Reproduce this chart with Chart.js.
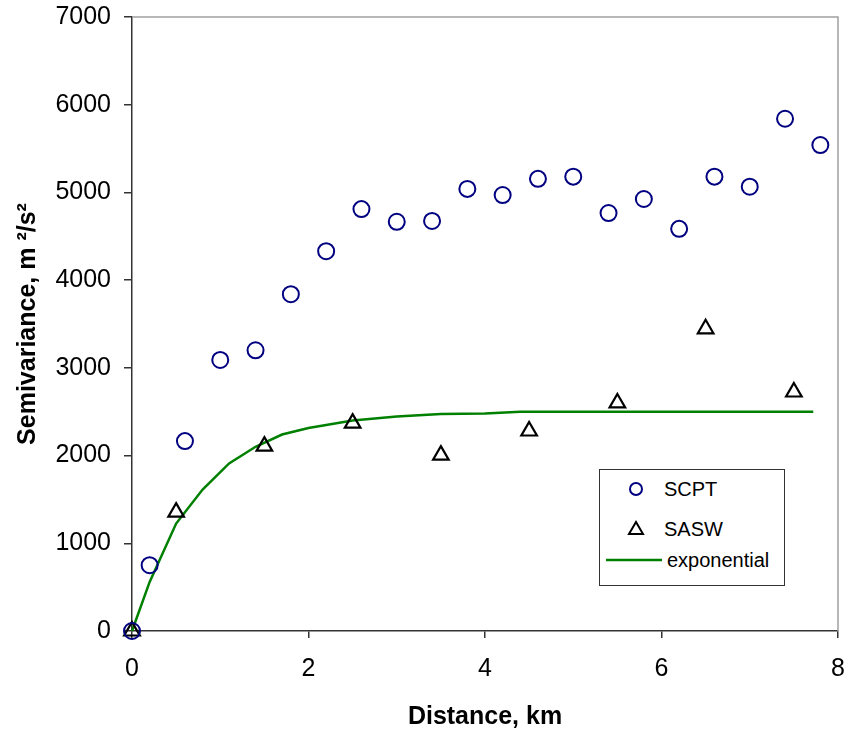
<!DOCTYPE html>
<html>
<head>
<meta charset="utf-8">
<script src="https://cdn.jsdelivr.net/npm/chart.js@4"></script>
<style>
  html, body { margin:0; padding:0; background:#fff; }
  #wrap { position:relative; width:846px; height:730px; }
  #c { position:absolute; left:0; top:0; }
  #legend { position:absolute; left:599px; top:469px; width:184px; height:115px; border:1px solid #333; background:#fff;
            font-family:"Liberation Sans", Arial, sans-serif; font-size:20px; color:#000; }
  .item { position:absolute; left:0; height:24px; line-height:24px; white-space:nowrap; }
  .item svg { position:absolute; top:0; }
  .item span { position:absolute; top:0; }
</style>
</head>
<body>
<div id="wrap">
  <canvas id="c" width="846" height="730"></canvas>
  <div id="legend">
    <div class="item" style="top:7px;"><svg width="60" height="24" style="left:20px"><circle cx="16" cy="12" r="6" fill="none" stroke="#000080" stroke-width="2"/></svg><span style="left:64px">SCPT</span></div>
    <div class="item" style="top:47px;"><svg width="60" height="24" style="left:20px"><polygon points="16,5 23,17 9,17" fill="none" stroke="#000" stroke-width="2"/></svg><span style="left:64px">SASW</span></div>
    <div class="item" style="top:78px;"><svg width="60" height="24" style="left:6px"><line x1="0" y1="12" x2="56" y2="12" stroke="#008000" stroke-width="2.5"/></svg><span style="left:67px">exponential</span></div>
  </div>
</div>
<script>
// ---- data ----
const scptDistance = [0, 0.2, 0.6, 1.0, 1.4, 1.8, 2.2, 2.6, 3.0, 3.4, 3.8, 4.2, 4.6, 5.0, 5.4, 5.8, 6.2, 6.6, 7.0, 7.4, 7.8];
const scptSemivar  = [0, 750, 2165, 3090, 3200, 3840, 4330, 4810, 4665, 4675, 5040, 4970, 5155, 5180, 4765, 4925, 4585, 5180, 5065, 5840, 5540];

const saswDistance = [0, 0.5, 1.5, 2.5, 3.5, 4.5, 5.5, 6.5, 7.5];
const saswSemivar  = [0, 1355, 2108, 2370, 2005, 2280, 2600, 3445, 2725];

const expDistance = [0, 0.2, 0.5, 0.8, 1.1, 1.4, 1.7, 2.0, 2.5, 3.0, 3.5, 4.0, 4.4, 5.0, 6.0, 7.0, 7.72];
const expSemivar  = [0, 560, 1225, 1613, 1910, 2100, 2240, 2315, 2400, 2445, 2475, 2480, 2500, 2500, 2500, 2500, 2500];

const xTickValues = [0, 2, 4, 6, 8];
const yTickValues = [0, 1000, 2000, 3000, 4000, 5000, 6000, 7000];

const seriesNames = ['SCPT', 'SASW', 'exponential'];
const xTitle = 'Distance, km';
const yTitle = 'Semivariance, m \u00B2/s\u00B2';

const toXY = (xs, ys) => xs.map((x, i) => ({x: x, y: ys[i]}));

const frame = {
  id: 'frame',
  beforeDatasetsDraw(chart) {
    const {ctx, chartArea: a} = chart;
    ctx.save();
    ctx.strokeStyle = '#a0a0a0';
    ctx.lineWidth = 1.5;
    ctx.beginPath();
    ctx.moveTo(a.left, a.top);
    ctx.lineTo(a.right, a.top);
    ctx.lineTo(a.right, a.bottom);
    ctx.stroke();
    ctx.restore();
  }
};

const font = {family: '"Liberation Sans", Arial, sans-serif', size: 25};
const titleFont = {family: '"Liberation Sans", Arial, sans-serif', size: 25, weight: 'bold', lineHeight: 1.0};

function zeroPad(s) { s.paddingTop = 0; s.paddingRight = 0; s.paddingBottom = 0; s.paddingLeft = 0; }

new Chart(document.getElementById('c'), {
  type: 'scatter',
  data: {
    datasets: [
      { label: seriesNames[0], data: toXY(scptDistance, scptSemivar), pointStyle: 'circle', pointRadius: 8, pointHoverRadius: 8,
        borderColor: '#000080', backgroundColor: 'rgba(0,0,0,0)', borderWidth: 2, showLine: false, clip: false },
      { label: seriesNames[1], data: toXY(saswDistance, saswSemivar), pointStyle: 'triangle', pointRadius: 9, pointHoverRadius: 9,
        borderColor: '#000000', backgroundColor: 'rgba(0,0,0,0)', borderWidth: 2.2, showLine: false, clip: false },
      { label: seriesNames[2], data: toXY(expDistance, expSemivar), showLine: true, pointRadius: 0, borderColor: '#008000',
        borderWidth: 2.5, tension: 0, fill: false, clip: false }
    ]
  },
  options: {
    responsive: false,
    animation: false,
    events: [],
    layout: { autoPadding: false, padding: { top: 17, right: 8, left: 0, bottom: 0 } },
    plugins: { legend: { display: false }, tooltip: { enabled: false } },
    scales: {
      x: {
        type: 'linear', min: 0, max: 8,
        afterBuildTicks(s) { s.ticks = xTickValues.map(v => ({value: v})); },
        afterFit(s) { s.height = 99; zeroPad(s); },
        border: { display: true, color: '#333', width: 1.5 },
        grid: { drawOnChartArea: false, drawTicks: true, tickLength: 7, color: '#333', lineWidth: 1.5 },
        ticks: { color: '#000', font: font, padding: 16, maxRotation: 0, callback: v => String(v) },
        title: { display: true, text: xTitle, color: '#000', font: titleFont, padding: { top: 0, bottom: 0 } }
      },
      y: {
        type: 'linear', min: 0, max: 7000,
        afterBuildTicks(s) { s.ticks = yTickValues.map(v => ({value: v})); },
        afterFit(s) { s.width = 132; zeroPad(s); },
        border: { display: true, color: '#333', width: 1.5 },
        grid: { drawOnChartArea: false, drawTicks: true, tickLength: 8, color: '#333', lineWidth: 1.5 },
        ticks: { color: '#000', font: font, padding: 13, callback: v => String(v) },
        title: { display: true, text: yTitle, color: '#000', font: titleFont, padding: { top: 16, bottom: 0 } }
      }
    }
  },
  plugins: [frame]
});
</script>
</body>
</html>
